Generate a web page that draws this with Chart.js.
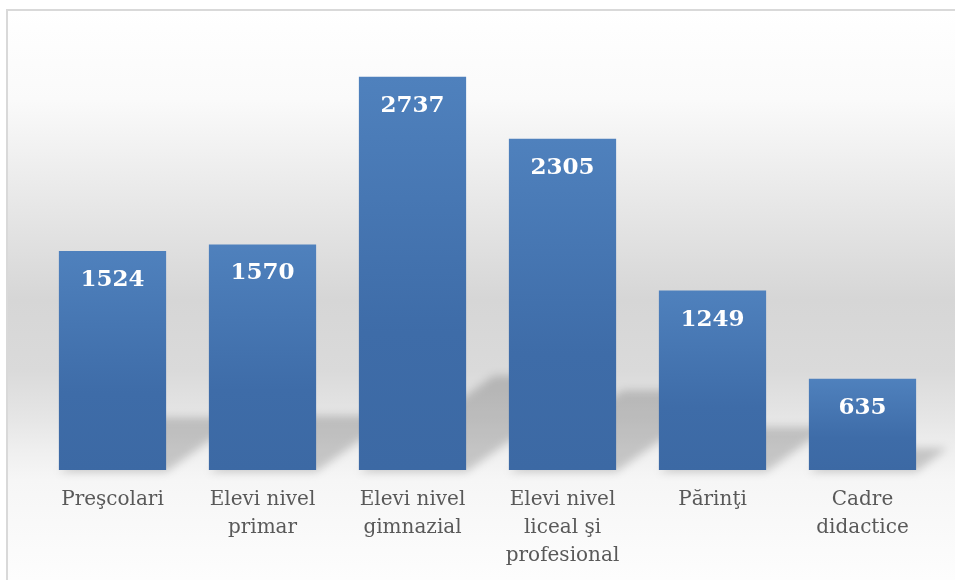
<!DOCTYPE html>
<html>
<head>
<meta charset="utf-8">
<script src="https://cdn.jsdelivr.net/npm/chart.js@4"></script>
<style>
  body { margin: 0; background: #fff; }
  #caja { width: 955px; height: 580px; }
</style>
</head>
<body>
<div id="caja"><canvas id="miGrafica" width="955" height="580"></canvas></div>
<script>
const categorii = [
    'Preşcolari',
    ['Elevi nivel', 'primar'],
    ['Elevi nivel', 'gimnazial'],
    ['Elevi nivel', 'liceal şi', 'profesional'],
    'Părinţi',
    ['Cadre', 'didactice']
];
const valori = [1524, 1570, 2737, 2305, 1249, 635];
const yMax = 3000;

// fundal cu gradient si chenar gri
const fundal = {
    id: 'fundal',
    beforeDraw(chart) {
        const c = chart.ctx;
        c.save();
        c.fillStyle = '#ffffff';
        c.fillRect(0, 0, chart.width, chart.height);
        const g = c.createLinearGradient(0, 10, 0, 580);
        g.addColorStop(0, '#ffffff');
        g.addColorStop(90 / 570, '#fafafa');
        g.addColorStop(190 / 570, '#e8e8e8');
        g.addColorStop(290 / 570, '#d6d6d6');
        g.addColorStop(360 / 570, '#dadada');
        g.addColorStop(410 / 570, '#e6e6e6');
        g.addColorStop(440 / 570, '#efefef');
        g.addColorStop(470 / 570, '#f6f6f6');
        g.addColorStop(1, '#fdfdfd');
        c.fillStyle = g;
        c.fillRect(7, 10, chart.width, chart.height);
        c.strokeStyle = '#d9d9d9';
        c.lineWidth = 2;
        c.strokeRect(7, 10, chart.width + 10, chart.height + 10);
        c.restore();
    }
};

// umbrele in perspectiva + gradientul fiecarei coloane
const umbre = {
    id: 'umbre',
    beforeDatasetsDraw(chart) {
        const c = chart.ctx;
        const meta = chart.getDatasetMeta(0);
        c.save();
        c.filter = 'blur(4px)';
        c.fillStyle = 'rgba(0,0,0,0.18)';
        meta.data.forEach(function (bar) {
            const st = bar.x - bar.width / 2;
            const dr = bar.x + bar.width / 2;
            const h = (bar.base - bar.y) * 0.24;
            const d = h / 0.7;
            c.beginPath();
            c.moveTo(st, bar.base + 2);
            c.lineTo(dr, bar.base + 2);
            c.lineTo(dr + d, bar.base - h);
            c.lineTo(st + d, bar.base - h);
            c.closePath();
            c.fill();
        });
        c.restore();
        meta.data.forEach(function (bar) {
            const g = c.createLinearGradient(0, bar.y, 0, bar.base);
            g.addColorStop(0, '#4f81bd');
            g.addColorStop(0.65, '#3e6ca8');
            g.addColorStop(1, '#3c69a4');
            bar.options.backgroundColor = g;
        });
    }
};

// valorile scrise in coloane
const etichete = {
    id: 'etichete',
    afterDatasetsDraw(chart) {
        const c = chart.ctx;
        const meta = chart.getDatasetMeta(0);
        c.save();
        c.fillStyle = '#ffffff';
        c.font = 'bold 23px "DejaVu Serif"';
        c.textAlign = 'center';
        c.textBaseline = 'middle';
        meta.data.forEach(function (bar, i) {
            c.fillText(valori[i], bar.x, bar.y + 29);
        });
        c.restore();
    }
};

const graf = document.getElementById('miGrafica').getContext('2d');

const myChart = new Chart(graf, {
    type: 'bar',
    data: {
        labels: categorii,
        datasets: [{
            data: valori,
            // functie => fiecare coloana are optiunile ei (nu impartite)
            backgroundColor: function () { return '#4677b4'; },
            borderWidth: 0,
            barPercentage: 0.715,
            categoryPercentage: 1
        }]
    },
    options: {
        responsive: false,
        animation: false,
        layout: {
            padding: { left: 37.5, right: 17.5, top: 39, bottom: -6 }
        },
        plugins: {
            legend: { display: false },
            tooltip: { enabled: false }
        },
        scales: {
            x: {
                grid: { display: false, drawTicks: false, tickLength: 0 },
                border: { display: false },
                ticks: {
                    color: '#595959',
                    font: { family: '"DejaVu Serif"', size: 20, lineHeight: '28px' },
                    padding: 16,
                    autoSkip: false,
                    maxRotation: 0
                }
            },
            y: {
                display: false,
                min: 0,
                max: yMax
            }
        }
    },
    plugins: [fundal, umbre, etichete]
});
</script>
</body>
</html>
